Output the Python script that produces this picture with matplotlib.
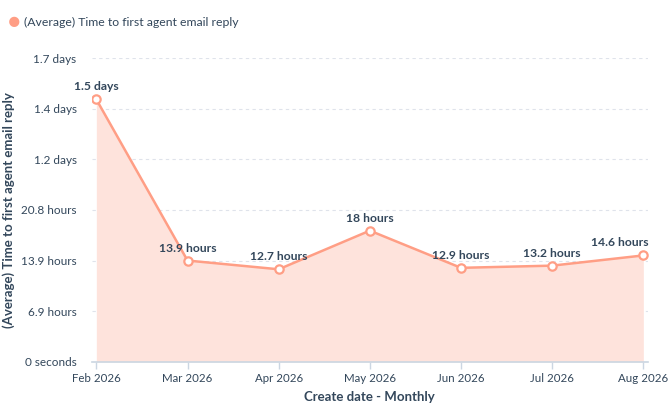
import matplotlib.pyplot as plt
from matplotlib.ticker import FixedLocator

# Data (in hours)
months = ['Feb 2026', 'Mar 2026', 'Apr 2026', 'May 2026', 'Jun 2026', 'Jul 2026', 'Aug 2026']
hours = [36.0, 13.9, 12.7, 18.0, 12.9, 13.2, 14.6]
point_labels = ['1.5 days', '13.9 hours', '12.7 hours', '18 hours', '12.9 hours', '13.2 hours', '14.6 hours']
y_ticks = [0, 25000, 50000, 75000, 100000, 125000, 150000]
y_tick_labels = ['0 seconds', '6.9 hours', '13.9 hours', '20.8 hours', '1.2 days', '1.4 days', '1.7 days']

seconds = [h * 3600 for h in hours]
x = list(range(len(months)))

text_color = '#33475b'
line_color = '#ff9e85'
fill_color = '#fee3dc'

plt.rcParams['font.family'] = ['Lato', 'DejaVu Sans']

fig = plt.figure(figsize=(6.7, 4.15), dpi=100)
ax = fig.add_axes([0.137, 0.128, 0.830, 0.732])

ax.fill_between(x, seconds, 0, color=fill_color, linewidth=0, zorder=1)
ax.plot(x, seconds, color=line_color, linewidth=1.8, marker='o', markersize=6,
        markerfacecolor='white', markeredgecolor=line_color, markeredgewidth=1.6, zorder=3)

# Value labels above each point (last one kept inside the figure)
for xi, yi, lab in zip(x, seconds, point_labels):
    if xi == x[-1]:
        ax.annotate(lab, (xi, yi), xytext=(4, 5), textcoords='offset points',
                    ha='right', va='bottom', fontsize=8.7, fontweight='bold', color=text_color, zorder=4)
    else:
        ax.annotate(lab, (xi, yi), xytext=(0, 5), textcoords='offset points',
                    ha='center', va='bottom', fontsize=8.7, fontweight='bold', color=text_color, zorder=4)

ax.set_xlim(-0.05, 6.05)
ax.set_ylim(0, 150000)
ax.yaxis.set_major_locator(FixedLocator(y_ticks))
ax.set_yticklabels(y_tick_labels)
ax.set_xticks(x)
ax.set_xticklabels(months)

ax.grid(axis='y', linestyle=(0, (3, 3)), color='#dfe3eb', linewidth=0.8, zorder=0)
ax.set_axisbelow(True)

for side in ['top', 'right', 'left']:
    ax.spines[side].set_visible(False)
ax.spines['bottom'].set_color('#cbd6e2')
ax.spines['bottom'].set_linewidth(1.2)
ax.spines['bottom'].set_zorder(5)

ax.tick_params(axis='y', length=0, pad=11, labelsize=8.5, labelcolor=text_color)
ax.tick_params(axis='x', length=5, width=1, color='#cbd6e2', pad=3, labelsize=8.3, labelcolor=text_color)

ax.set_xlabel('Create date - Monthly', fontsize=9.5, fontweight='bold', color=text_color, labelpad=5)
ax.set_ylabel('(Average) Time to first agent email reply', fontsize=9.5, fontweight='bold',
              color=text_color, labelpad=4)

# Legend at top-left
fig.text(0.012, 0.948, '\u25cf', fontsize=15, color=line_color, va='center', ha='left')
fig.text(0.036, 0.946, '(Average) Time to first agent email reply', fontsize=8.8, color=text_color,
         va='center', ha='left')

fig.savefig('out.png', dpi=100)
